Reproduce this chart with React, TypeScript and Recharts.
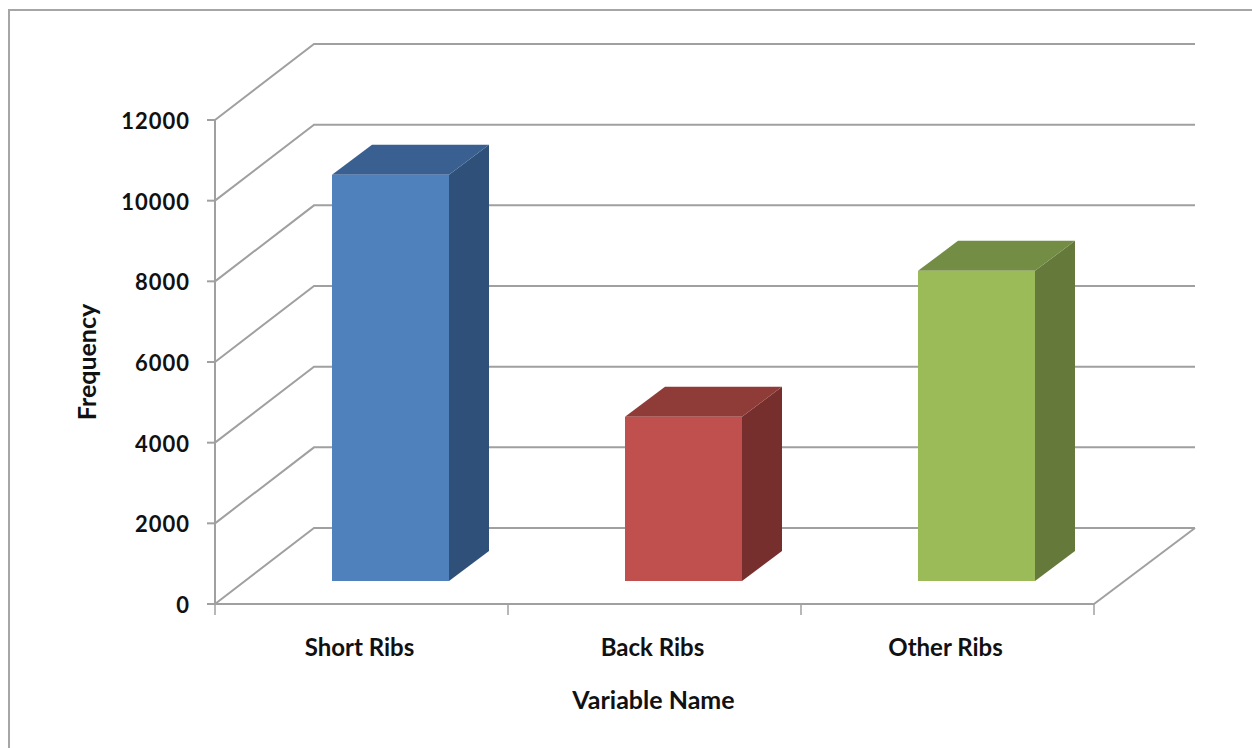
import { BarChart, Bar, XAxis, YAxis, CartesianGrid } from 'recharts';

const categories = ['Short Ribs', 'Back Ribs', 'Other Ribs'];
const frequency = [10070, 4070, 7690];
const yTicks = [0, 2000, 4000, 6000, 8000, 10000, 12000];

const frontColors = ['#4F81BD', '#C0504D', '#9BBB59'];
const sideColors = ['#2F5079', '#772F2D', '#64793A'];
const topColors = ['#3A6092', '#8F3C39', '#748D45'];

const chartData = categories.map((name, i) => ({ name, value: frequency[i], index: i }));

const FONT = 'Lato, sans-serif';
const GRID = '#a0a0a0';

// oblique offset of the back wall and of one bar's depth
const WALL_DX = 99;
const WALL_DY = 76;
const BAR_SHIFT_X = 29;
const BAR_SHIFT_Y = 23;
const BAR_DX = 40;
const BAR_DY = 30;

// Front corner, slanted floor/side wall segment and back wall line for each gridline
function WallLine(props: any) {
  const { x1, x2, y1, index } = props;
  const bx = x1 + WALL_DX;
  const by = y1 - WALL_DY;
  const isFloor = y1 > 600;
  return (
    <g key={`wall-${index}`} fill="none" stroke={GRID} strokeWidth={2}>
      <polyline points={`${x1},${y1} ${bx},${by} ${x2 + WALL_DX + 2},${by}`} />
      {isFloor && <line x1={x2} y1={y1} x2={x2 + WALL_DX + 2} y2={by} />}
    </g>
  );
}

// Box drawn as three faces, sitting partway into the floor depth
function Box3D(props: any) {
  const { x, y, width, height, index } = props;
  const left = x + BAR_SHIFT_X;
  const right = left + width;
  const top = y - BAR_SHIFT_Y;
  const bottom = top + height;
  return (
    <g>
      <polygon
        points={`${right},${top} ${right + BAR_DX},${top - BAR_DY} ${right + BAR_DX},${bottom - BAR_DY} ${right},${bottom}`}
        fill={sideColors[index]}
      />
      <polygon
        points={`${left},${top} ${left + BAR_DX},${top - BAR_DY} ${right + BAR_DX},${top - BAR_DY} ${right},${top}`}
        fill={topColors[index]}
      />
      <rect x={left} y={top} width={width} height={height} fill={frontColors[index]} />
    </g>
  );
}

// Category label plus tick marks on the band edges
function CategoryTick(props: any) {
  const { x, y, payload, index, width } = props;
  const band = width / categories.length;
  const edge = x - band / 2;
  return (
    <g>
      <line x1={edge} y1={604} x2={edge} y2={615} stroke={GRID} strokeWidth={1.5} />
      {index === categories.length - 1 && (
        <line x1={edge + band} y1={604} x2={edge + band} y2={615} stroke={GRID} strokeWidth={1.5} />
      )}
      <text x={x - 2} y={y + 44} textAnchor="middle" fontFamily={FONT} fontWeight={700} fontSize={24} fill="#111">
        {payload.value}
      </text>
    </g>
  );
}

function ValueTick(props: any) {
  const { y, payload } = props;
  return (
    <text x={190} y={y + 9} textAnchor="end" fontFamily={FONT} fontWeight={700} fontSize={22} letterSpacing={1} fill="#111">
      {payload.value}
    </text>
  );
}

export default function App() {
  return (
    <div style={{ position: 'relative', width: 1252, height: 748, background: '#fff', overflow: 'hidden' }}>
      <style>{'body{margin:0}'}</style>
      <div
        style={{
          position: 'absolute',
          left: 8,
          top: 9,
          width: 1244,
          height: 739,
          borderLeft: '2px solid #a6a6a6',
          borderTop: '2px solid #a6a6a6',
          boxSizing: 'border-box',
        }}
      />
      <BarChart
        width={1252}
        height={748}
        data={chartData}
        margin={{ top: 120, right: 158, bottom: 0, left: 0 }}
        barSize={117}
        style={{ position: 'absolute', left: 0, top: 0 }}
      >
        <CartesianGrid horizontal={(p: any) => <WallLine {...p} />} vertical={false} />
        <XAxis
          dataKey="name"
          axisLine={{ stroke: GRID, strokeWidth: 2 }}
          tickLine={false}
          tick={<CategoryTick />}
          height={144}
          interval={0}
          label={{
            value: 'Variable Name',
            position: 'insideTop',
            offset: 87,
            dx: -1,
            fontFamily: FONT,
            fontWeight: 700,
            fontSize: 25,
            fill: '#111',
          }}
        />
        <YAxis
          domain={[0, 12000]}
          ticks={yTicks}
          width={215}
          interval={0}
          axisLine={{ stroke: GRID, strokeWidth: 2 }}
          tickLine={{ stroke: GRID, strokeWidth: 2 }}
          tickSize={8}
          tick={<ValueTick />}
          label={{
            value: 'Frequency',
            angle: -90,
            position: 'center',
            dx: -20,
            fontFamily: FONT,
            fontWeight: 700,
            fontSize: 25,
            fill: '#111',
          }}
        />
        <Bar dataKey="value" shape={<Box3D />} isAnimationActive={false} />
      </BarChart>
    </div>
  );
}
